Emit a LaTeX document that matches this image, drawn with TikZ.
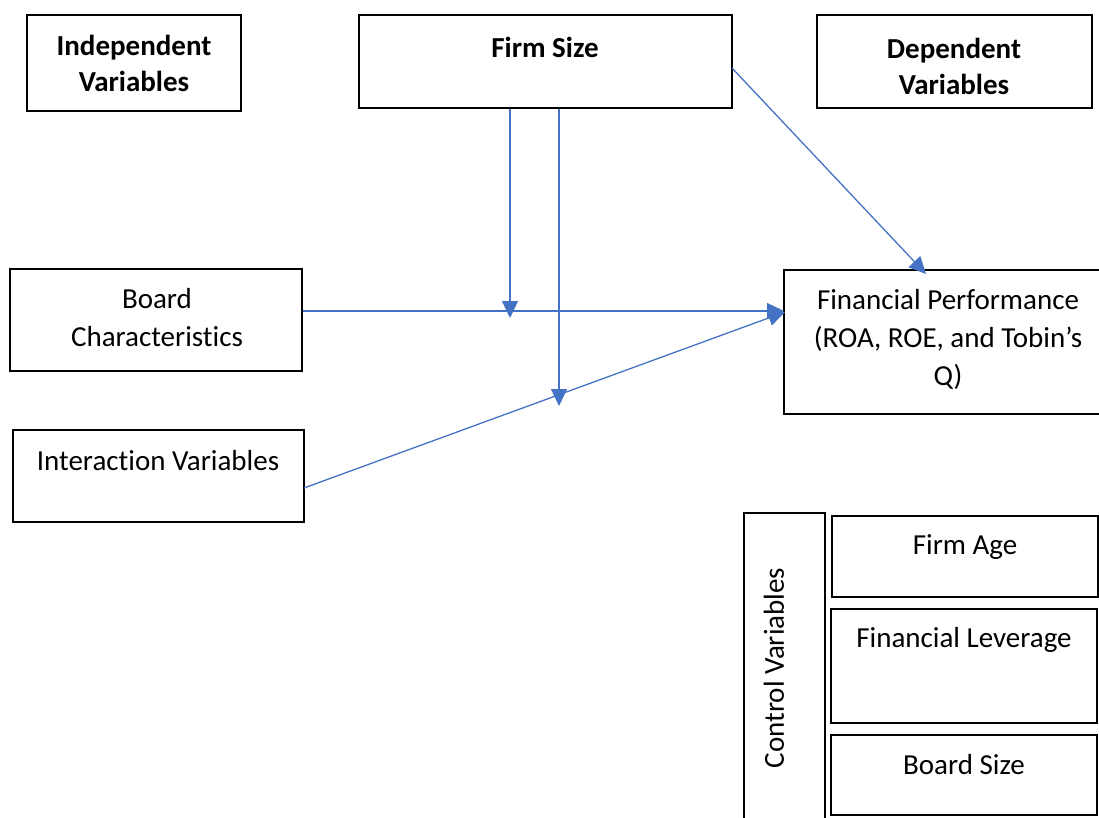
\documentclass[tikz,border=0pt]{standalone}
\usepackage{fontspec}
\setmainfont[Ligatures={NoCommon}]{Carlito}
\usetikzlibrary{arrows.meta}
\definecolor{wordblue}{HTML}{4472C4}
\tikzset{
  box/.style={draw=black, line width=1.4pt, inner sep=0pt, rectangle},
  txt/.style={align=center, inner sep=0pt, font=\fontsize{29}{38}\selectfont},
  btxt/.style={txt, font=\fontsize{29}{36}\selectfont\bfseries},
  conn/.style={draw=wordblue, line width=1.3pt, -{Triangle[length=17pt,width=16pt]}}
}
\begin{document}
\begin{tikzpicture}[x=1pt,y=-1pt]
\useasboundingbox (0,0) rectangle (1099,817);
% boxes
\node[box, minimum width=214pt, minimum height=96pt] (iv) at (134,63) {};
\node[box, minimum width=373pt, minimum height=93pt] (fs) at (545.5,61.5) {};
\node[box, minimum width=275pt, minimum height=93pt] (dv) at (954.5,61.5) {};
\node[box, minimum width=292pt, minimum height=102pt] (bc) at (156,320) {};
\node[box, minimum width=291pt, minimum height=92pt] (ia) at (158.5,476) {};
\node[box, minimum width=316pt, minimum height=144pt] (fp) at (942,342) {};
\node[box, minimum width=81pt, minimum height=310pt] (cv) at (784.5,668) {};
\node[box, minimum width=266pt, minimum height=81pt] (fa) at (965,556.5) {};
\node[box, minimum width=266pt, minimum height=114pt] (fl) at (964,666) {};
\node[box, minimum width=266pt, minimum height=80pt] (bs) at (964,775) {};
% texts
\node[btxt] at (134,63) {Independent\\Variables};
\node[btxt] at (545,47) {Firm Size};
\node[btxt] at (954,66) {Dependent\\Variables};
\node[txt] at (157,318) {Board\\Characteristics};
\node[txt] at (158,461) {Interaction Variables};
\node[txt] at (948,339) {Financial Performance\\(ROA, ROE, and Tobin's\\Q)};
\node[txt, rotate=90] at (774,668) {Control Variables};
\node[txt] at (965,547) {Firm Age};
\node[txt] at (964,640) {Financial Leverage};
\node[txt] at (964,765) {Board Size};
% connector end points
\coordinate (t1) at (510,318);
\coordinate (t2) at (559,406);
\coordinate (fpl) at (784,311);
\coordinate (fpl2) at (785,312);
\coordinate (fpt) at (926,274);
\coordinate (fsr) at (732,68);
\coordinate (ial) at (304,488);
% connectors
\draw[conn] (fs.south -| t1) -- (t1);
\draw[conn] (fs.south -| t2) -- (t2);
\draw[conn] (bc.east |- fpl) -- (fpl);
\draw[conn] (ial) -- (fpl2);
\draw[conn] (fsr) -- (fpt);
\end{tikzpicture}
\end{document}
